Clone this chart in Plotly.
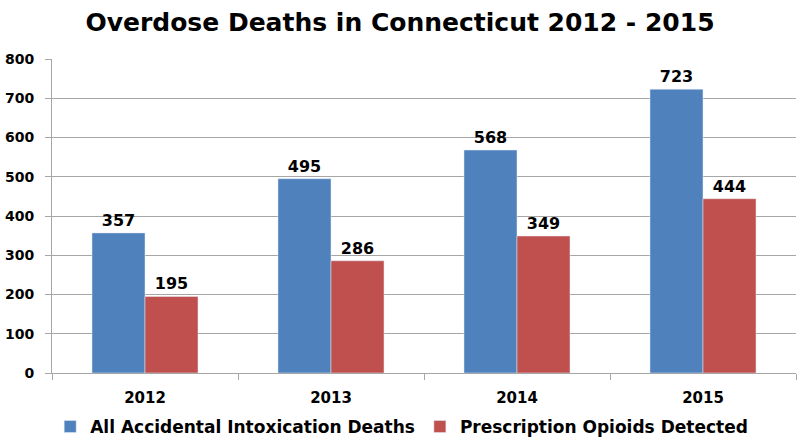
import plotly.graph_objects as go

years = ['2012', '2013', '2014', '2015']
all_deaths = [357, 495, 568, 723]
opioid_deaths = [195, 286, 349, 444]

blue = '#4F81BD'
red = '#C0504D'
grid = '#a6a6a6'

label_font = dict(family='DejaVu Sans', size=16, color='black', weight='bold')

fig = go.Figure()
fig.add_trace(go.Bar(x=years, y=all_deaths, name='All Accidental Intoxication Deaths',
                     marker_color=blue, text=all_deaths, textposition='outside',
                     textfont=label_font, cliponaxis=False))
fig.add_trace(go.Bar(x=years, y=opioid_deaths, name='Prescription Opioids Detected',
                     marker_color=red, text=opioid_deaths, textposition='outside',
                     textfont=label_font, cliponaxis=False))

fig.update_layout(
    width=800, height=442,
    barmode='group', bargap=0.43, bargroupgap=0,
    plot_bgcolor='white', paper_bgcolor='white',
    margin=dict(l=52, r=4, t=59, b=69, autoexpand=False),
    title=dict(text='Overdose Deaths in Connecticut 2012 - 2015', x=0.5, xanchor='center',
               y=1 - 22 / 442, yanchor='middle',
               font=dict(family='DejaVu Sans', size=25, color='black', weight='bold')),
    font=dict(family='DejaVu Sans', color='black'),
    legend=dict(orientation='h', x=0.47, xanchor='center', y=-0.172, yanchor='middle',
                font=dict(family='DejaVu Sans', size=17, weight='bold'),
                itemwidth=30, traceorder='normal'),
    showlegend=True,
)

fig.update_yaxes(range=[0, 800], dtick=100, showgrid=True, gridcolor=grid,
                 showline=True, linecolor=grid, ticks='outside', ticklen=6,
                 tickcolor=grid, tickfont=dict(size=14, weight='bold'),
                 ticklabelstandoff=8, zeroline=False, automargin=False)
fig.update_xaxes(showline=True, linecolor=grid, ticks='outside', ticklen=6,
                 tickcolor=grid, tickson='boundaries', ticklabelstandoff=11,
                 tickfont=dict(size=15, weight='bold'), automargin=False)

# drop the default page margin so the figure sits at the window's corner
fig.write_html('out.html', config={'displayModeBar': False},
               post_script="document.body.style.margin='0';")
